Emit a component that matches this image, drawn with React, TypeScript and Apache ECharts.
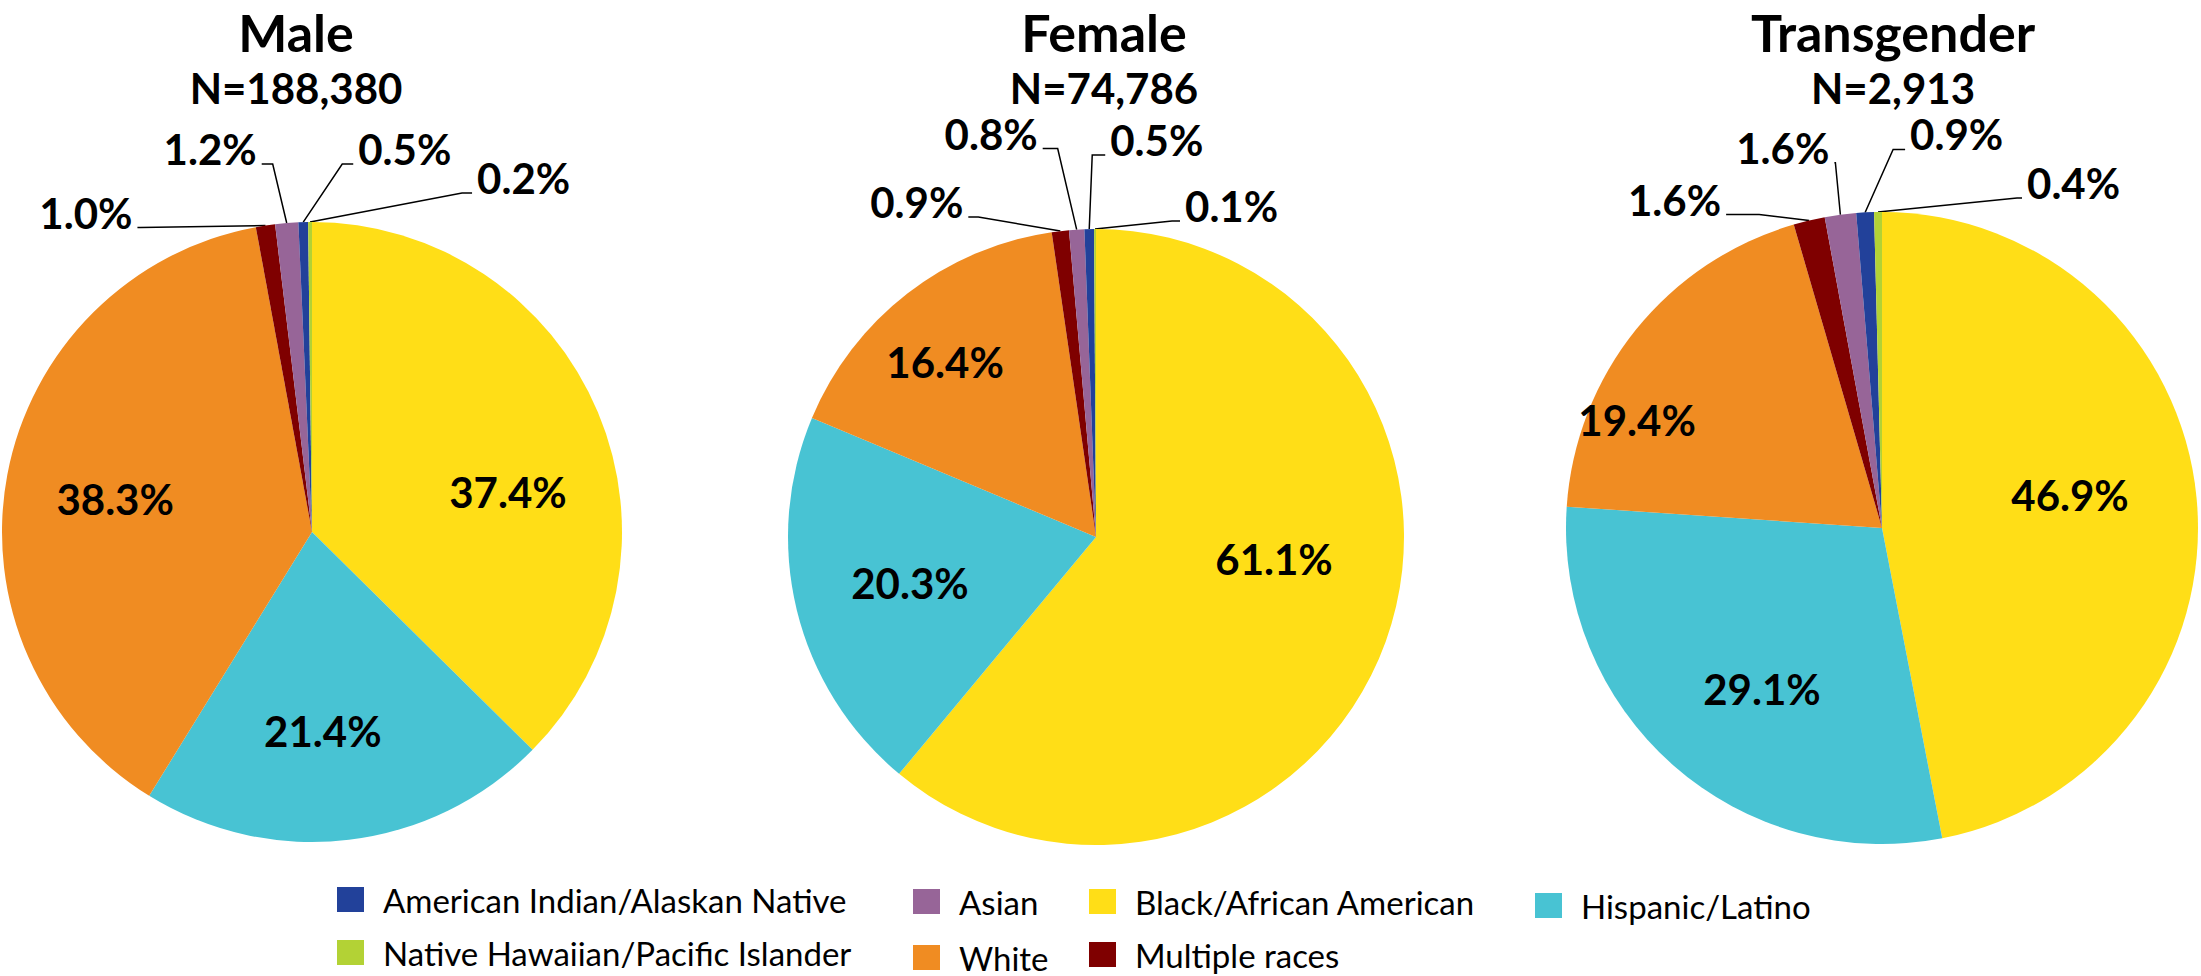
import React, { useEffect, useRef } from "react";
import * as echarts from "echarts";

// ---- data ----
const categories = [
  "Black/African American",
  "Hispanic/Latino",
  "White",
  "Multiple races",
  "Asian",
  "American Indian/Alaskan Native",
  "Native Hawaiian/Pacific Islander",
];
const maleValues = [37.4, 21.4, 38.3, 1.0, 1.2, 0.5, 0.2];
const femaleValues = [61.1, 20.3, 16.4, 0.9, 0.8, 0.5, 0.1];
const transgenderValues = [46.9, 29.1, 19.4, 1.6, 1.6, 0.9, 0.4];
const groupTitles = ["Male", "Female", "Transgender"];
const groupCounts = ["N=188,380", "N=74,786", "N=2,913"];
const legendNames = [
  "American Indian/Alaskan Native",
  "Asian",
  "Black/African American",
  "Hispanic/Latino",
  "Native Hawaiian/Pacific Islander",
  "White",
  "Multiple races",
];

// ---- styles / layout ----
const colorMap: Record<string, string> = {
  "Black/African American": "#FFDE17",
  "Hispanic/Latino": "#48C3D3",
  White: "#F08C22",
  "Multiple races": "#7F0000",
  Asian: "#976598",
  "American Indian/Alaskan Native": "#22419A",
  "Native Hawaiian/Pacific Islander": "#B3D235",
};
const pieLayout = [
  { center: [312, 532], radius: 310, titleX: 296 },
  { center: [1096, 537], radius: 308, titleX: 1104 },
  { center: [1882, 528], radius: 316, titleX: 1893 },
];
// inside label centres, as fractions of the radius from the pie centre
const insideLabelPos: number[][][] = [
  [[0.632, -0.129], [0.035, 0.642], [-0.635, -0.106]],
  [[0.578, 0.071], [-0.604, 0.149], [-0.49, -0.568]],
  [[0.595, -0.104], [-0.38, 0.509], [-0.775, -0.342]],
];
// outside leader lines: elbow offset from slice edge [dx, dy], horizontal tail h
const leaderOffsets: number[][][] = [
  [[-125, 2, -3], [-14, -59, -11], [39, -58, 11], [152, -29, 10]],
  [[-82, -14, -10], [-19, -81, -15], [3, -74, 13], [77, -8, 8]],
  [[-50, -6, -33], [-5, -52, -1], [28, -63, 12], [139, -14, 5]],
];
const legendPos: Record<string, number[]> = {
  "American Indian/Alaskan Native": [337, 883],
  Asian: [913, 885],
  "Black/African American": [1089, 885],
  "Hispanic/Latino": [1535, 889],
  "Native Hawaiian/Pacific Islander": [337, 936],
  White: [913, 941],
  "Multiple races": [1089, 938],
};
const FONT = "Lato, 'Open Sans', sans-serif";

const seriesValues = [maleValues, femaleValues, transgenderValues];

function anchorOf(si: number, di: number) {
  const vals = seriesValues[si];
  const total = vals.reduce((a, b) => a + b, 0);
  let cum = 0;
  for (let i = 0; i < di; i++) cum += vals[i];
  const theta = (2 * Math.PI * (cum + vals[di] / 2)) / total;
  const { center, radius } = pieLayout[si];
  return [center[0] + radius * Math.sin(theta), center[1] - radius * Math.cos(theta)];
}

export default function App() {
  const ref = useRef<HTMLDivElement>(null);
  useEffect(() => {
    if (!ref.current) return;
    const chart = echarts.init(ref.current, undefined, { renderer: "svg" });
    const series = seriesValues.map((vals, si) => ({
      type: "pie",
      name: groupTitles[si],
      center: pieLayout[si].center,
      radius: pieLayout[si].radius,
      startAngle: 90,
      clockwise: true,
      avoidLabelOverlap: false,
      silent: true,
      emphasis: { disabled: true },
      itemStyle: { borderWidth: 0 },
      label: {
        show: true,
        formatter: (p: any) => Number(p.value).toFixed(1) + "%",
        fontSize: 42,
        lineHeight: 42,
        fontWeight: "bold",
        fontFamily: FONT,
        color: "#000",
      },
      labelLine: {
        show: true,
        length: 10,
        length2: 10,
        lineStyle: { color: "#000", width: 1.5 },
      },
      labelLayout: (params: any) => {
        const di = params.dataIndex;
        const { center, radius } = pieLayout[si];
        if (di < 3) {
          const f = insideLabelPos[si][di];
          return {
            x: center[0] + f[0] * radius,
            y: center[1] + f[1] * radius,
            align: "center",
            verticalAlign: "middle",
          };
        }
        const a = anchorOf(si, di);
        const o = leaderOffsets[si][di - 3];
        const elbow = [a[0] + o[0], a[1] + o[1]];
        const end = [elbow[0] + o[2], elbow[1]];
        const left = o[2] < 0;
        return {
          x: end[0] + (left ? -5 : 5),
          y: elbow[1] - 15,
          align: left ? "right" : "left",
          verticalAlign: "middle",
          labelLinePoints: [a, elbow, end],
        };
      },
      data: categories.map((name, i) => ({
        name,
        value: vals[i],
        itemStyle: { color: colorMap[name] },
        label: { position: vals[i] >= 5 ? "inside" : "outside" },
        labelLine: { show: vals[i] < 5 },
      })),
    }));

    const option: any = {
      animation: false,
      backgroundColor: "#fff",
      title: groupTitles.map((t, i) => ({
        text: t,
        subtext: groupCounts[i],
        left: pieLayout[i].titleX,
        textAlign: "center",
        top: 2,
        padding: 0,
        itemGap: 5,
        textStyle: {
          fontSize: 52,
          lineHeight: 60,
          fontWeight: "bold",
          fontFamily: FONT,
          color: "#000",
        },
        subtextStyle: {
          fontSize: 42,
          lineHeight: 42,
          fontWeight: "bold",
          fontFamily: FONT,
          color: "#000",
        },
      })),
      legend: legendNames.map((name) => ({
        data: [name],
        left: legendPos[name][0],
        top: legendPos[name][1],
        padding: 0,
        icon: "rect",
        itemWidth: 27,
        itemHeight: 25,
        selectedMode: false,
        textStyle: {
          fontSize: 33,
          lineHeight: 25,
          fontFamily: FONT,
          color: "#000",
          padding: [0, 0, 0, 14],
        },
      })),
      series,
    };
    chart.setOption(option);
    return () => chart.dispose();
  }, []);
  return (
    <div
      ref={ref}
      style={{ position: "fixed", left: 0, top: 0, width: 2201, height: 976, background: "#fff" }}
    />
  );
}
